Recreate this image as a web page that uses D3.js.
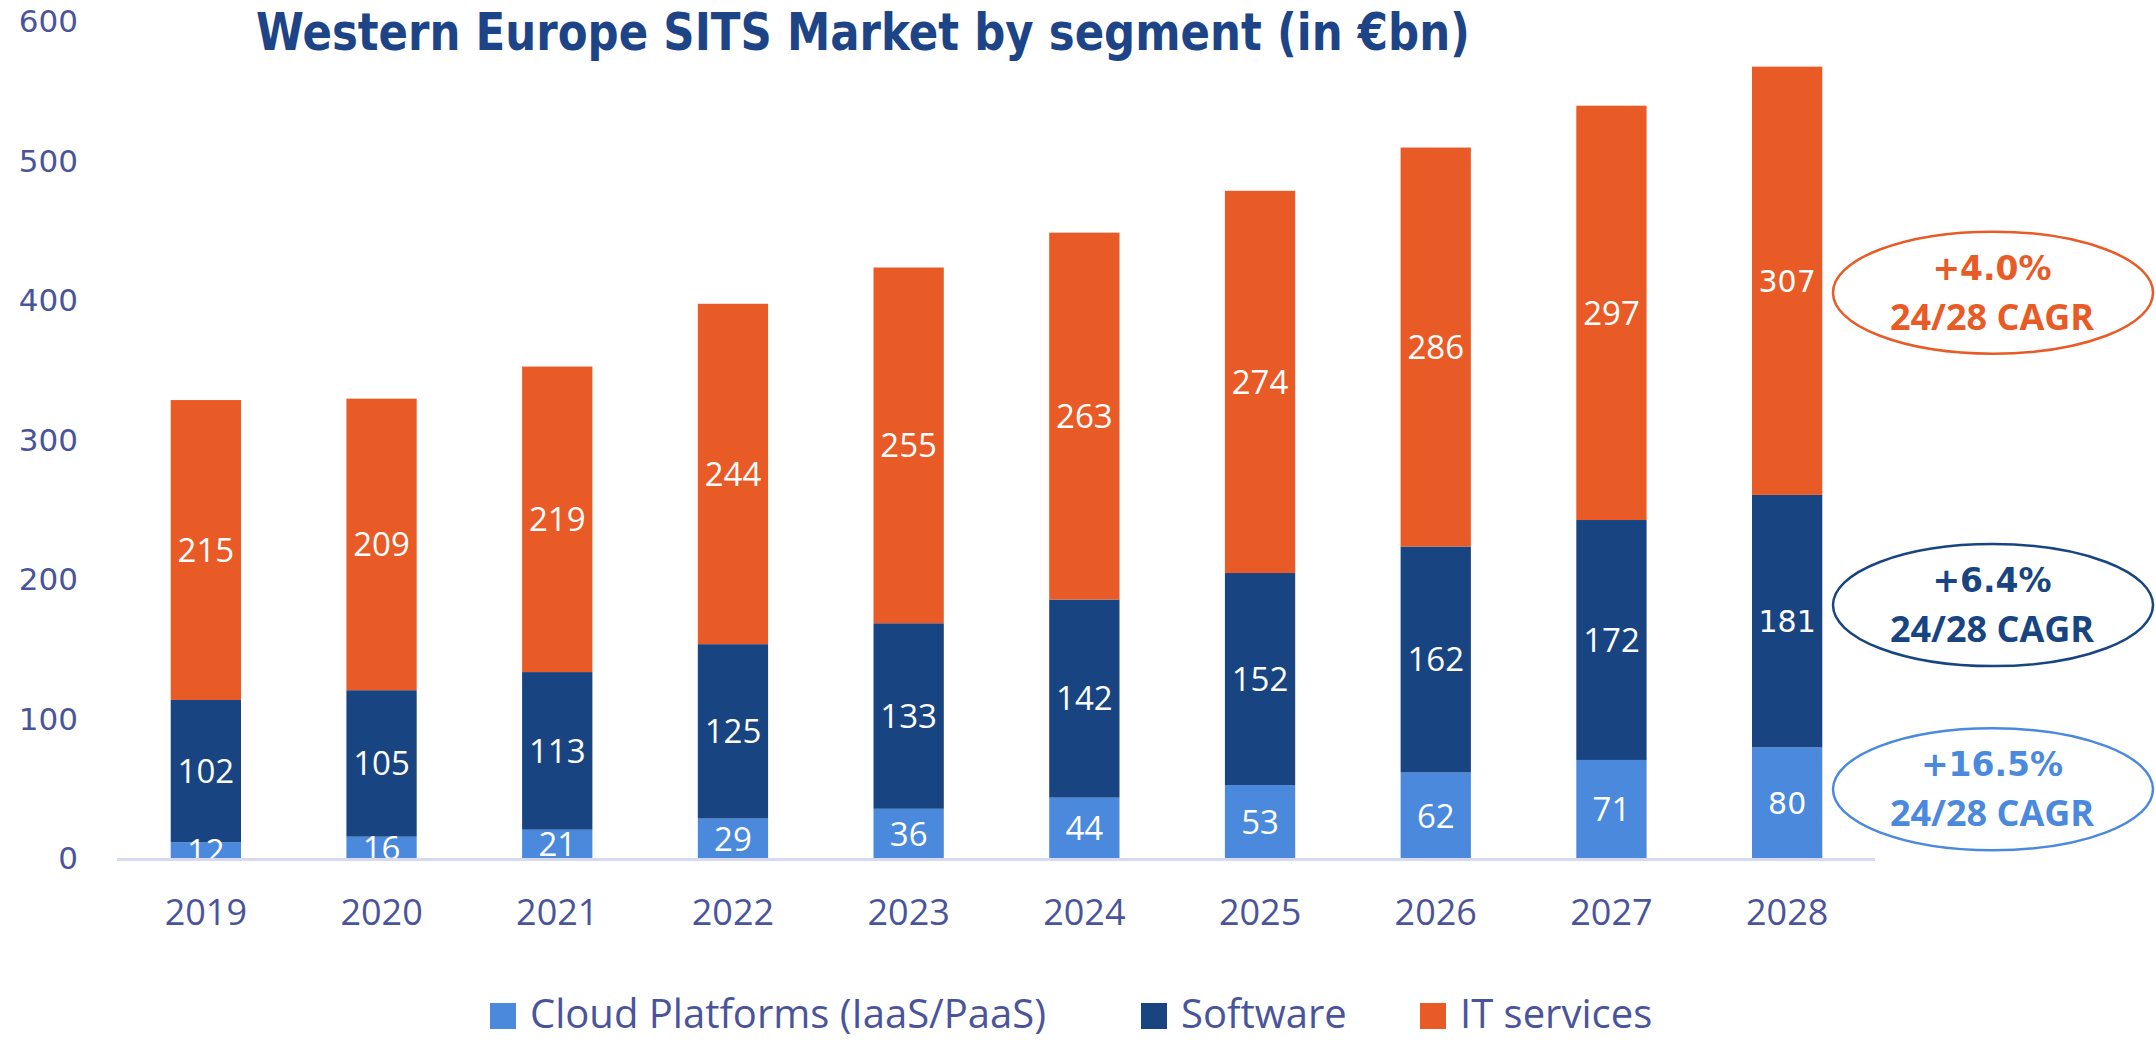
<!DOCTYPE html>
<html>
<head>
<meta charset="utf-8">
<script src="https://cdn.jsdelivr.net/npm/d3@7"></script>
<style>
  body { margin: 0; background: #fff; }
  svg { display: block; }
</style>
</head>
<body>
<div class="chart"></div>
<script>
// data
var years = ["2019", "2020", "2021", "2022", "2023", "2024", "2025", "2026", "2027", "2028"];
var cloud = [12, 16, 21, 29, 36, 44, 53, 62, 71, 80];
var software = [102, 105, 113, 125, 133, 142, 152, 162, 172, 181];
var itServices = [215, 209, 219, 244, 255, 263, 274, 286, 297, 307];
var seriesNames = ["Cloud Platforms (IaaS/PaaS)", "Software", "IT services"];
var yTicks = [0, 100, 200, 300, 400, 500, 600];
var cagrText = ["+16.5%", "+6.4%", "+4.0%"];   // same order as the series
var cagrSub = "24/28 CAGR";
var title = "Western Europe SITS Market by segment (in €bn)";

var w = 2156, h = 1040;
var colors = ["#4a89dc", "#184582", "#e95b26"];
var axisText = "#4a549b";

var svg = d3.select(".chart").append("svg")
  .attr("width", w)
  .attr("height", h)
  .style("background", "#fff");

var x = d3.scaleBand().domain(years).range([118, 1875]).paddingInner(0.6).paddingOuter(0.3);
var y = d3.scaleLinear().domain([0, 600]).range([859, 22]);

var table = years.map(function(yr, i) {
  return { year: yr, cloud: cloud[i], software: software[i], it: itServices[i] };
});
var keys = ["cloud", "software", "it"];
var stacked = d3.stack().keys(keys)(table);

// clip so the small labels get cut at the baseline like in the original
svg.append("clipPath").attr("id", "plotclip")
  .append("rect").attr("x", 0).attr("y", 0).attr("width", w).attr("height", y(0));

// title
svg.append("text")
  .attr("x", 256).attr("y", 50)
  .attr("textLength", 1214).attr("lengthAdjust", "spacingAndGlyphs")
  .style("font-family", "'DejaVu Sans', Verdana, sans-serif")
  .style("font-weight", "bold")
  .style("font-size", "51px")
  .style("fill", "#1c4486")
  .text(title);

// y axis labels
var yAxis = d3.axisLeft(y).tickValues(yTicks).tickSize(0).tickPadding(0);
var yg = svg.append("g").attr("transform", "translate(78,0)").call(yAxis);
yg.select(".domain").remove();
yg.selectAll("text")
  .style("font-family", "'DejaVu Sans', Verdana, sans-serif")
  .style("font-size", "31px")
  .style("fill", axisText);

// bars
var layers = svg.selectAll(".layer").data(stacked).enter().append("g")
  .attr("class", "layer")
  .attr("fill", function(d, i) { return colors[i]; });

layers.selectAll("rect").data(function(d) { return d; }).enter().append("rect")
  .attr("x", function(d) { return x(d.data.year); })
  .attr("y", function(d) { return y(d[1]); })
  .attr("width", x.bandwidth())
  .attr("height", function(d) { return y(d[0]) - y(d[1]); });

// value labels inside the segments
var lab = svg.append("g").attr("clip-path", "url(#plotclip)");
stacked.forEach(function(layer) {
  lab.selectAll(null).data(layer).enter().append("text")
    .attr("x", function(d) { return x(d.data.year) + x.bandwidth() / 2; })
    .attr("y", function(d) { return (y(d[0]) + y(d[1])) / 2; })
    .attr("dy", "0.36em")
    .attr("text-anchor", "middle")
    .style("font-family", function(d) { return d.data.year == "2028" ? "'DejaVu Sans', sans-serif" : "'Open Sans', sans-serif"; })
    .style("font-size", function(d) { return d.data.year == "2028" ? "30px" : "33px"; })
    .style("fill", "#fff")
    .text(function(d) { return d.data[layer.key]; });
});

// baseline + x labels
var xAxis = d3.axisBottom(x).tickSize(0).tickPadding(0);
var xg = svg.append("g").attr("transform", "translate(0," + y(0) + ")").call(xAxis);
xg.select(".domain").remove();
xg.selectAll("text")
  .attr("y", 53).attr("dy", "0.36em")
  .style("font-family", "'Open Sans', sans-serif")
  .style("font-size", "36px")
  .style("fill", axisText);

svg.append("line")
  .attr("x1", 117).attr("x2", 1875)
  .attr("y1", y(0) + 0.5).attr("y2", y(0) + 0.5)
  .attr("stroke", "#d6d9ef").attr("stroke-width", 3);

// CAGR ellipses
var cagrY = [50, 182, 406];
cagrText.forEach(function(t, i) {
  var cy = y(cagrY[i]);
  var g = svg.append("g");
  g.append("ellipse")
    .attr("cx", 1993).attr("cy", cy).attr("rx", 160).attr("ry", 61)
    .attr("fill", "none").attr("stroke", colors[i]).attr("stroke-width", 2.5);
  g.append("text")
    .attr("x", 1992).attr("y", cy - 13)
    .attr("text-anchor", "middle")
    .style("font-family", "'DejaVu Sans', Verdana, sans-serif")
    .style("font-weight", "bold")
    .style("font-size", "33px")
    .style("fill", colors[i])
    .text(t);
  g.append("text")
    .attr("x", 1992).attr("y", cy + 37)
    .attr("text-anchor", "middle")
    .style("font-family", "'Open Sans', sans-serif")
    .style("font-weight", "bold")
    .style("font-size", "36px")
    .style("fill", colors[i])
    .text(cagrSub);
});

// legend
var legendX = [490, 1141, 1420];
seriesNames.forEach(function(name, i) {
  svg.append("rect")
    .attr("x", legendX[i]).attr("y", 1003).attr("width", 26).attr("height", 26)
    .attr("fill", colors[i]);
  svg.append("text")
    .attr("x", legendX[i] + 40).attr("y", 1028)
    .style("font-family", "'Open Sans', sans-serif")
    .style("font-size", "40px")
    .style("fill", axisText)
    .text(name);
});
</script>
</body>
</html>
